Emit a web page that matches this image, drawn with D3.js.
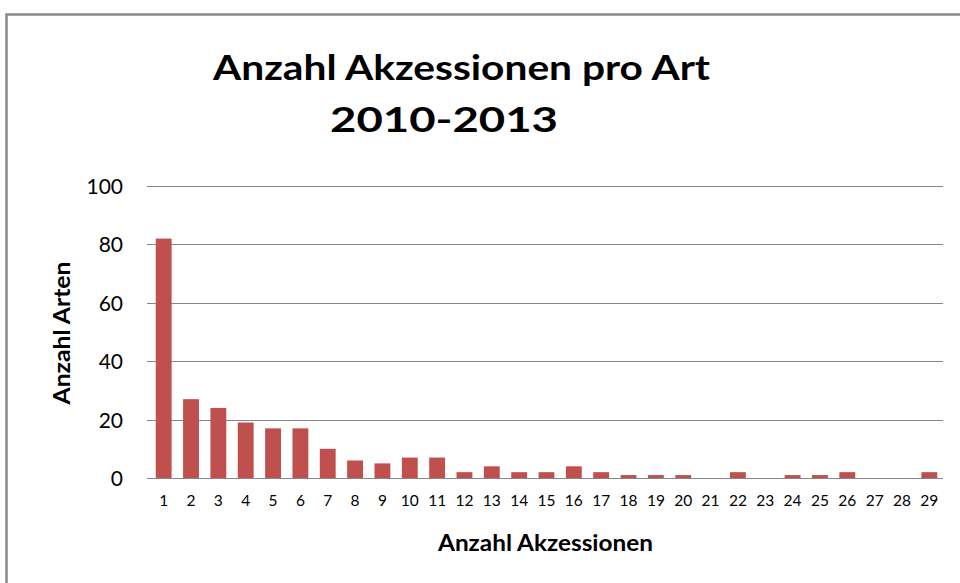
<!DOCTYPE html>
<html>
<head>
<meta charset="utf-8">
<script src="https://cdn.jsdelivr.net/npm/d3@7"></script>
<style>
  html, body { margin: 0; padding: 0; background: #fff; }
  svg { display: block; }
  text { font-family: Lato, "Open Sans", sans-serif; fill: #000; }
</style>
</head>
<body>
<svg id="chart" width="960" height="583"></svg>
<script>
// ---- data ----
const categories = ["1","2","3","4","5","6","7","8","9","10","11","12","13","14","15","16","17","18","19","20","21","22","23","24","25","26","27","28","29"];
const values = [82, 27, 24, 19, 17, 17, 10, 6, 5, 7, 7, 2, 4, 2, 2, 4, 2, 1, 1, 1, 0, 2, 0, 1, 1, 2, 0, 0, 2];
const yTicks = [0, 20, 40, 60, 80, 100];
const titleLines = ["Anzahl Akzessionen pro Art", "2010-2013"];
const xTitle = "Anzahl Akzessionen";
const yTitle = "Anzahl Arten";

// ---- layout ----
const W = 960, H = 583;
const plot = { left: 150, right: 943, top: 186, bottom: 478 };
const svg = d3.select("#chart");

// frame (partially visible border)
svg.append("path")
  .attr("d", `M6.5,${H} L6.5,14.5 L${W},14.5`)
  .attr("fill", "none")
  .attr("stroke", "#888")
  .attr("stroke-width", 2.5);

const x = d3.scaleBand().domain(categories).range([plot.left, plot.right]).paddingInner(0.42).paddingOuter(0.21);
const y = d3.scaleLinear().domain([0, 100]).range([plot.bottom, plot.top]);

// gridlines
svg.append("g")
  .selectAll("line")
  .data(yTicks)
  .join("line")
  .attr("x1", plot.left - 3).attr("x2", plot.right)
  .attr("y1", d => Math.round(y(d)) + 0.5).attr("y2", d => Math.round(y(d)) + 0.5)
  .attr("stroke", "#868686").attr("stroke-width", 1.2);

// bars
svg.append("g")
  .selectAll("rect")
  .data(values.map((v, i) => ({ c: categories[i], v })))
  .join("rect")
  .attr("x", d => x(d.c))
  .attr("width", x.bandwidth())
  .attr("y", d => y(d.v))
  .attr("height", d => y(0) - y(d.v))
  .attr("fill", "#C0504D");

// y axis labels
const yAxis = d3.axisLeft(y).tickValues(yTicks).tickSize(0).tickPadding(0);
const gy = svg.append("g").attr("transform", `translate(123,0)`).call(yAxis);
gy.select(".domain").remove();
gy.selectAll("text").style("font-family", "Lato, sans-serif").style("font-size", "21px").attr("fill", "#000").attr("dy", "0.36em");

// x axis labels
const xAxis = d3.axisBottom(x).tickSize(0).tickPadding(0);
const gx = svg.append("g").attr("transform", `translate(0,495)`).call(xAxis);
gx.select(".domain").remove();
gx.selectAll("text").style("font-family", "Lato, sans-serif").style("font-size", "15.5px").attr("fill", "#000").attr("dy", "0.72em");

function sized(sel, width) {
  sel.attr("textLength", width).attr("lengthAdjust", "spacingAndGlyphs");
}

// title
const t1 = svg.append("text").attr("x", 461.5).attr("y", 80).attr("text-anchor", "middle")
  .style("font-weight", "bold").style("font-size", "34.5px").text(titleLines[0]);
sized(t1, 497);
const t2 = svg.append("text").attr("x", 444).attr("y", 132).attr("text-anchor", "middle")
  .style("font-weight", "bold").style("font-size", "34px").text(titleLines[1]);
sized(t2, 228);

// axis titles
const xt = svg.append("text").attr("x", 545.5).attr("y", 551).attr("text-anchor", "middle")
  .style("font-weight", "bold").style("font-size", "22px").text(xTitle);
sized(xt, 215);
const yt = svg.append("text").attr("transform", "translate(69.5,333) rotate(-90)").attr("text-anchor", "middle")
  .style("font-weight", "bold").style("font-size", "23px").text(yTitle);
sized(yt, 143);
</script>
</body>
</html>
